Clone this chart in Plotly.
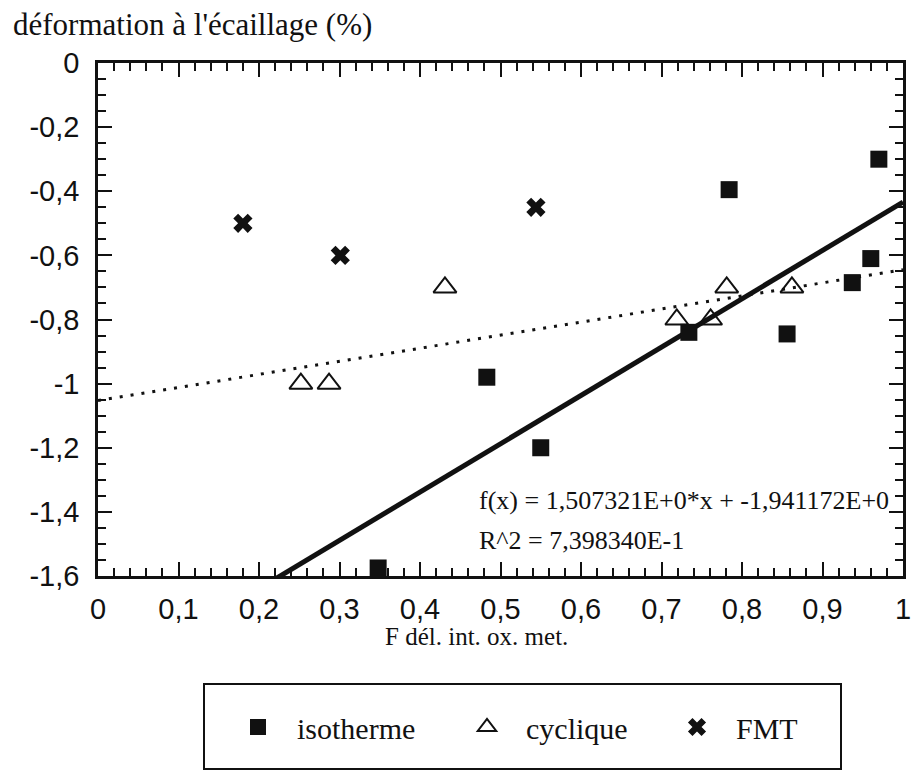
import numpy as np
import plotly.graph_objects as go

# Measurements: delamination strain vs oxide/metal interface fraction
iso_x = [0.348, 0.483, 0.550, 0.734, 0.784, 0.856, 0.937, 0.960, 0.970]
iso_y = [-1.575, -0.98, -1.20, -0.84, -0.395, -0.845, -0.685, -0.61, -0.30]

cyc_x = [0.252, 0.287, 0.431, 0.719, 0.761, 0.781, 0.862]
cyc_y = [-1.0, -1.0, -0.7, -0.8, -0.8, -0.7, -0.7]

fmt_x = [0.180, 0.301, 0.544]
fmt_y = [-0.50, -0.60, -0.45]

# Linear fit of the isothermal series (as printed on the chart)
fit_slope = 1.507321
fit_intercept = -1.941172
fit_label = ["f(x) = 1,507321E+0*x + -1,941172E+0", "R^2 = 7,398340E-1"]

x_tick_vals = [0, 0.1, 0.2, 0.3, 0.4, 0.5, 0.6, 0.7, 0.8, 0.9, 1]
x_tick_text = ["0", "0,1", "0,2", "0,3", "0,4", "0,5", "0,6", "0,7", "0,8", "0,9", "1"]
y_tick_vals = [0, -0.2, -0.4, -0.6, -0.8, -1.0, -1.2, -1.4, -1.6]
y_tick_text = ["0", "-0,2", "-0,4", "-0,6", "-0,8", "-1", "-1,2", "-1,4", "-1,6"]

INK = "#111111"
SERIF = "Liberation Serif"
SANS = "Liberation Sans"

line_x = np.array([0.0, 1.0])
fit_y = fit_slope * line_x + fit_intercept
cyc_coef = np.polyfit(cyc_x, cyc_y, 1)
cyc_fit_y = np.polyval(cyc_coef, line_x)

fig = go.Figure()

# regression lines
fig.add_trace(go.Scatter(x=line_x, y=cyc_fit_y, mode="lines", showlegend=False,
                         line=dict(color=INK, width=3, dash="3px,8px"), hoverinfo="skip"))
fig.add_trace(go.Scatter(x=line_x, y=fit_y, mode="lines", showlegend=False,
                         line=dict(color=INK, width=5), hoverinfo="skip"))

# data series
fig.add_trace(go.Scatter(x=iso_x, y=iso_y, mode="markers", name="isotherme",
                         cliponaxis=False, legend="legend",
                         marker=dict(symbol="square", size=17, color=INK)))
fig.add_trace(go.Scatter(x=cyc_x, y=cyc_y, mode="markers", name="cyclique",
                         cliponaxis=False, legend="legend2",
                         marker=dict(symbol="triangle-up-open", size=20, color=INK,
                                     line=dict(width=2, color=INK))))
fig.add_trace(go.Scatter(x=fmt_x, y=fmt_y, mode="markers", name="FMT",
                         cliponaxis=False, legend="legend3",
                         marker=dict(symbol="x", size=17, color=INK, line=dict(width=0))))

axis_common = dict(
    showline=True, linecolor=INK, linewidth=2.5, mirror="allticks",
    ticks="inside", tickcolor=INK, tickwidth=2, ticklen=14,
    showgrid=False, zeroline=False, tickmode="array",
    tickfont=dict(family=SANS, size=29, color=INK),
)

fig.update_xaxes(range=[0, 1], tickvals=x_tick_vals, ticktext=x_tick_text,
                 ticklabelstandoff=5,
                 minor=dict(ticks="inside", tickmode="linear", tick0=0, dtick=0.02,
                            ticklen=8, tickwidth=2, tickcolor=INK, showgrid=False),
                 **axis_common)
fig.update_yaxes(range=[-1.6, 0], tickvals=y_tick_vals, ticktext=y_tick_text,
                 ticklabelstandoff=10,
                 minor=dict(ticks="inside", tickmode="linear", tick0=0, dtick=0.05,
                            ticklen=8, tickwidth=2, tickcolor=INK, showgrid=False),
                 **axis_common)

W, H = 912, 771
ML, MR, MT, MB = 98, 9, 63, 195
PW, PH = W - ML - MR, H - MT - MB


def px(xpix):
    return (xpix - ML) / PW


def py(ypix):
    return 1 - (ypix - MT) / PH


annotations = [
    dict(text="déformation à l'écaillage (%)", x=px(11), y=py(24), xref="paper", yref="paper",
         xanchor="left", yanchor="middle", showarrow=False,
         font=dict(family=SERIF, size=31, color=INK)),
    dict(text="F dél. int. ox. met.", x=px(476), y=py(636), xref="paper", yref="paper",
         xanchor="center", yanchor="middle", showarrow=False,
         font=dict(family=SERIF, size=25, color=INK)),
    dict(text=fit_label[0], x=px(477), y=py(500), xref="paper", yref="paper",
         xanchor="left", yanchor="middle", showarrow=False,
         font=dict(family=SERIF, size=26, color=INK)),
    dict(text=fit_label[1], x=px(477), y=py(540), xref="paper", yref="paper",
         xanchor="left", yanchor="middle", showarrow=False,
         font=dict(family=SERIF, size=26, color=INK)),
]

legend_common = dict(orientation="h", xanchor="left", yanchor="middle",
                     bgcolor="rgba(0,0,0,0)", borderwidth=0, itemwidth=68,
                     font=dict(family=SERIF, size=30, color=INK))

fig.update_layout(
    width=W, height=H,
    margin=dict(l=ML, r=MR, t=MT, b=MB, pad=0, autoexpand=False),
    paper_bgcolor="white", plot_bgcolor="white",
    separators=", ",
    showlegend=True,
    legend=dict(x=px(219), y=py(727), **legend_common),
    legend2=dict(x=px(448), y=py(727), **legend_common),
    legend3=dict(x=px(658), y=py(727), **legend_common),
    annotations=annotations,
    shapes=[dict(type="rect", xref="paper", yref="paper",
                 x0=px(204), x1=px(841), y0=py(769), y1=py(684),
                 line=dict(color=INK, width=2))],
)

fig.write_html("out.html")
